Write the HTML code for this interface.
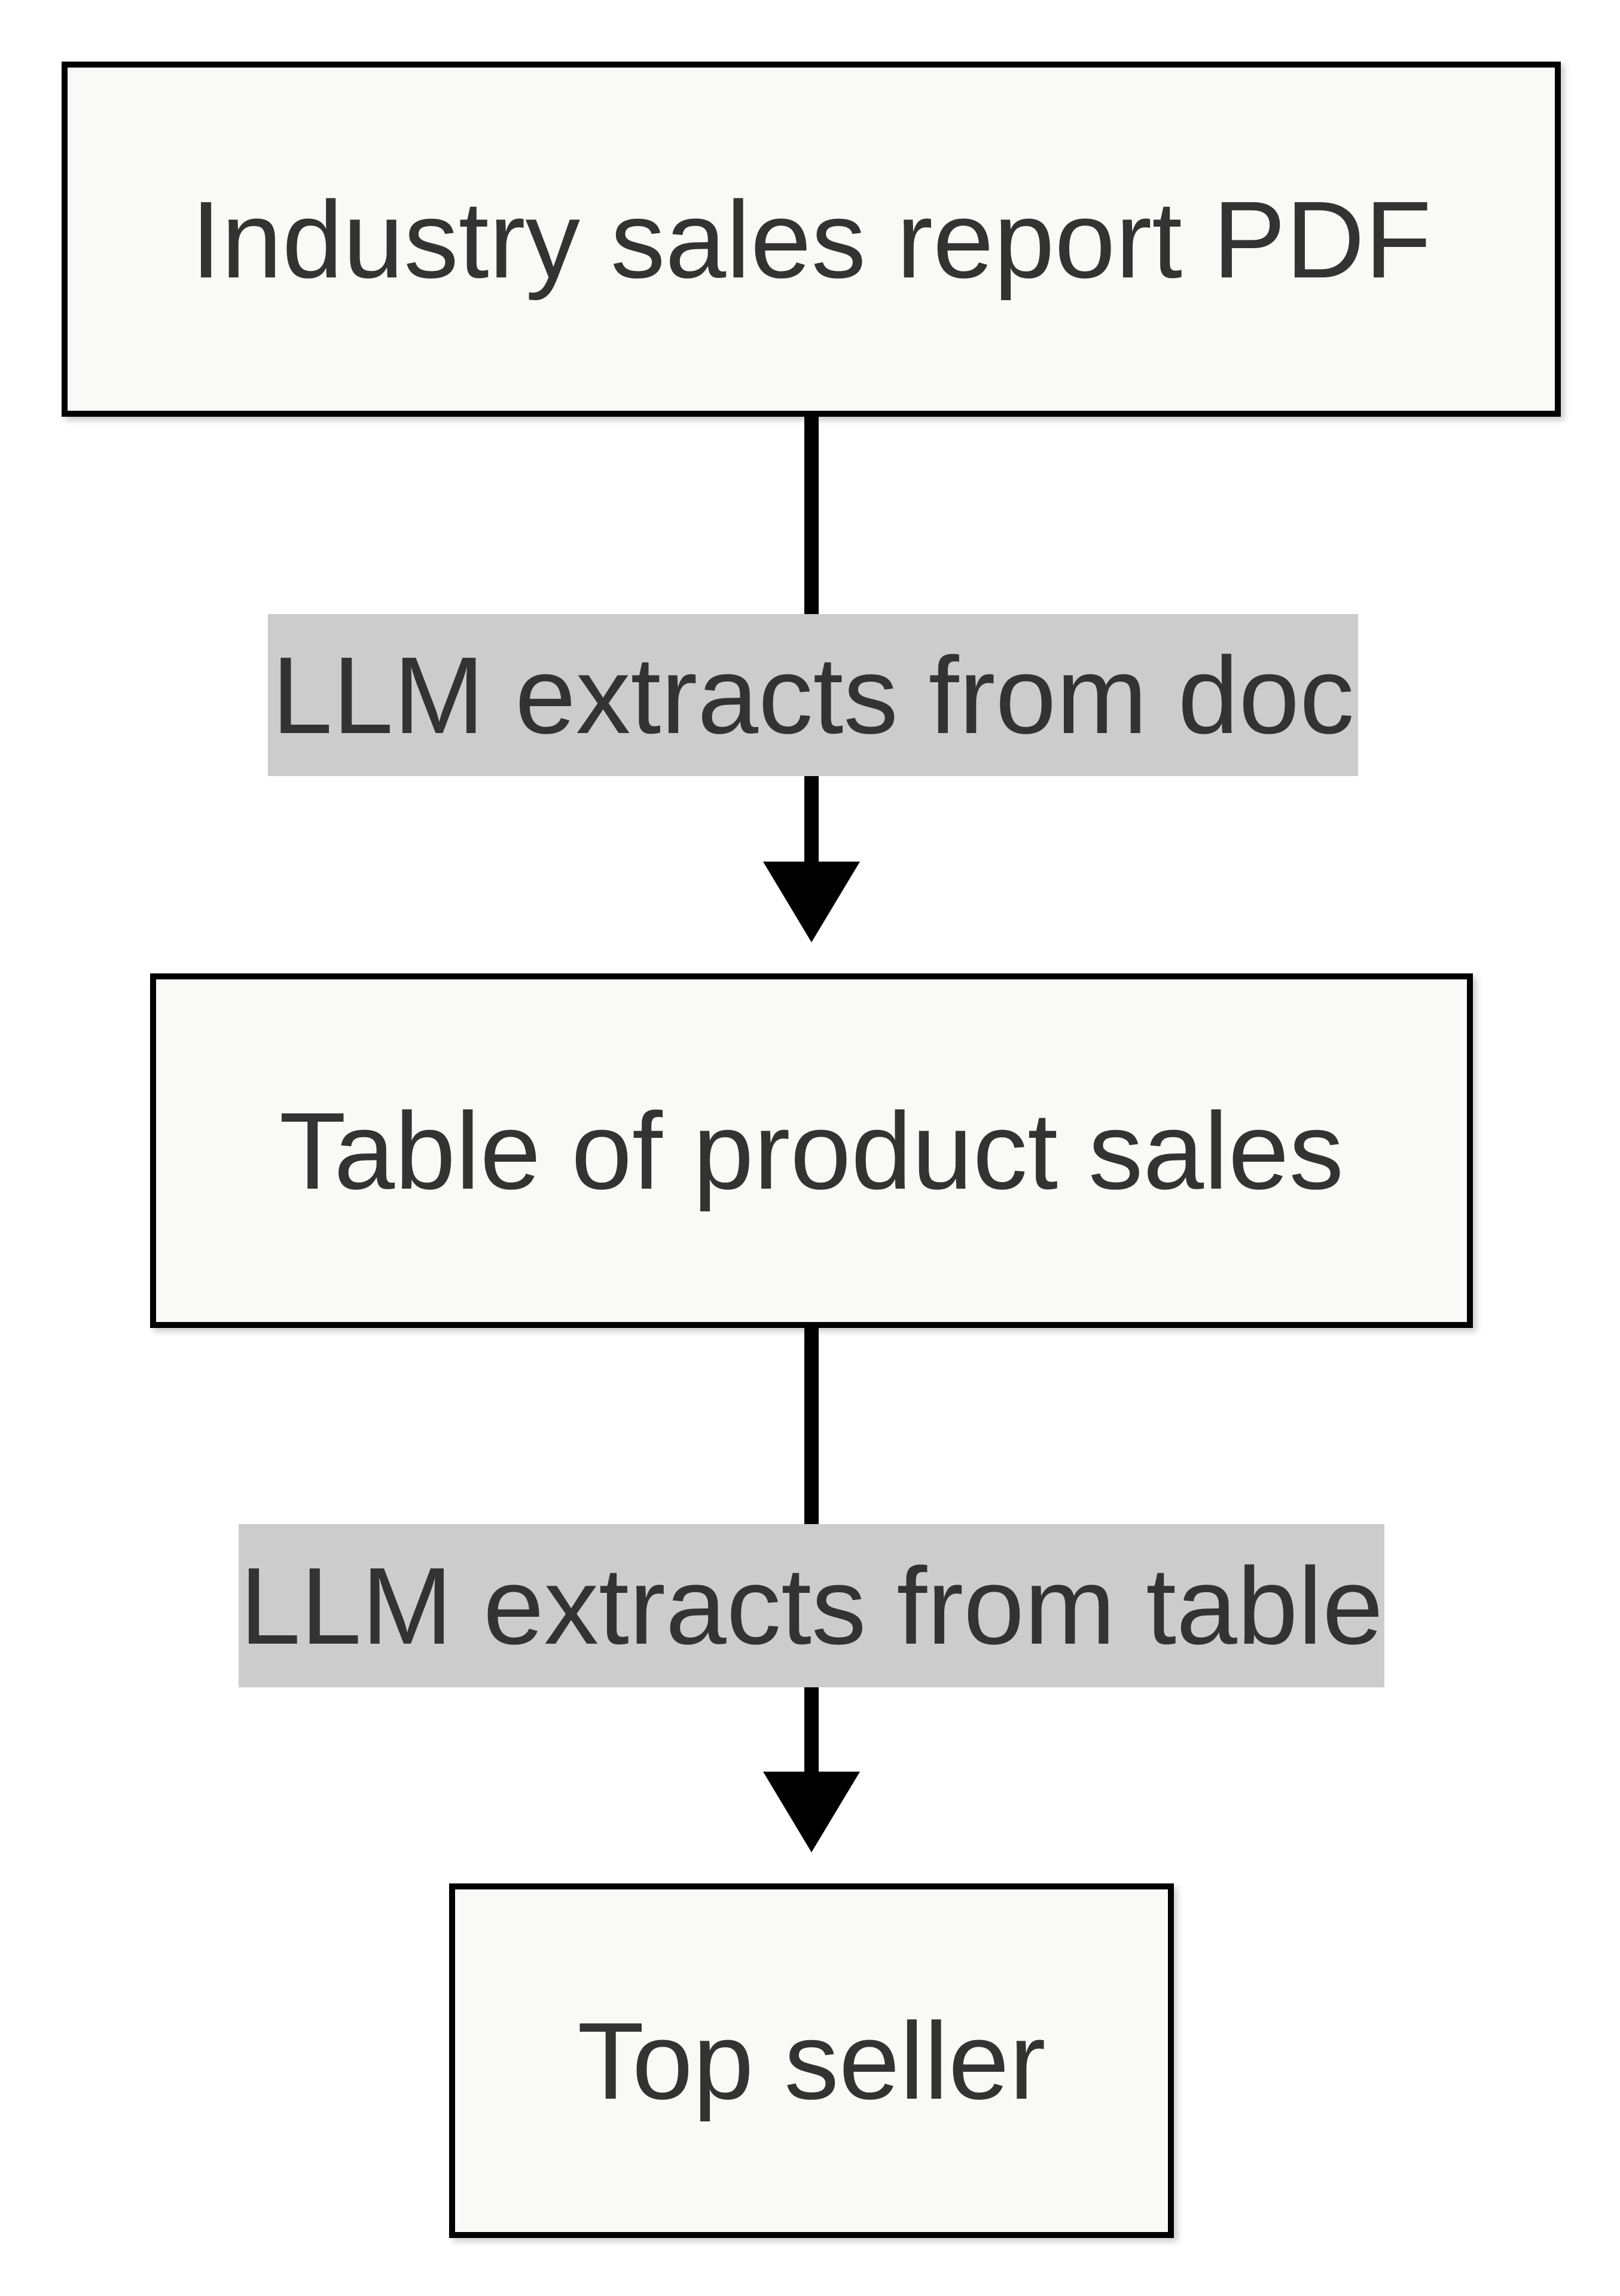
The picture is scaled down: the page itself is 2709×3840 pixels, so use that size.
<!DOCTYPE html>
<html><head><meta charset="utf-8"><style>
html,body{margin:0;padding:0;background:#fff;}
body{width:2709px;height:3840px;position:relative;overflow:hidden;font-family:"Liberation Sans",Arial,sans-serif;}
.box{position:absolute;box-sizing:border-box;background:#f9f9f7;border:10px solid #000;box-shadow:6px 6px 10px rgba(0,0,0,0.2);display:flex;align-items:center;justify-content:center;color:#333;font-size:183px;white-space:nowrap;}
.line{position:absolute;background:#000;width:24px;left:1345px;}
.lab{position:absolute;background:#cccccc;color:#333;font-size:183px;display:flex;align-items:center;justify-content:center;white-space:nowrap;}
</style></head><body>
<div class="box" style="left:103px;top:103px;width:2507px;height:594px;">Industry sales report PDF</div>
<div class="box" style="left:251px;top:1628px;width:2212px;height:593px;">Table of product sales</div>
<div class="box" style="left:751px;top:3150px;width:1212px;height:593px;">Top seller</div>
<div class="line" style="top:697px;height:760px;"></div>
<div class="line" style="top:2221px;height:760px;"></div>
<svg style="position:absolute;left:0;top:0" width="2709" height="3840">
<polygon points="1276,1441 1438,1441 1357,1576" fill="#000"/>
<polygon points="1276,2963 1438,2963 1357,3098" fill="#000"/>
</svg>
<div class="lab" style="left:448px;top:1027px;width:1823px;height:271px;">LLM extracts from doc</div>
<div class="lab" style="left:399px;top:2549px;width:1916px;height:273px;">LLM extracts from table</div>
</body></html>
